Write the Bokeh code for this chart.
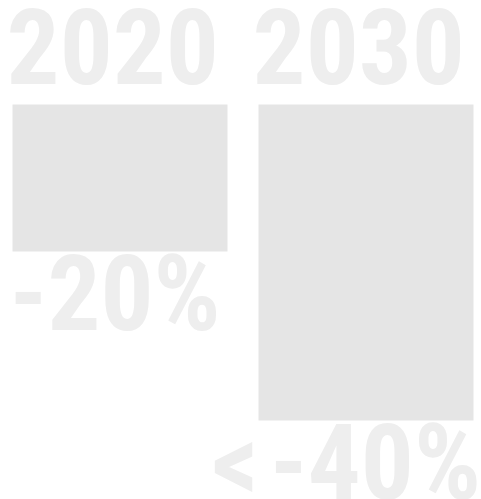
from bokeh.plotting import figure
from bokeh.embed import file_html
from bokeh.resources import INLINE
from bokeh.core.properties import value
from bokeh.models import Range1d

# --- data ---
years = ["2020", "2030"]
reduction = [20, 43]              # bar length (% reduction)
pct_labels = ["-20%", "<\u200a-40%"]

# --- styling ---
BAR_COLOR = "#e5e5e5"
TEXT_COLOR = "#eeeeee"
FONT = value("Roboto Condensed")
FONT_SIZE = "105px"

idx = list(range(len(years)))
bar_w = 0.874
bottoms = [-r for r in reduction]

p = figure(width=481, height=499, output_backend="svg", toolbar_location=None,
           x_range=Range1d(-0.4858, 1.4695), y_range=Range1d(-53.74, 14.15),
           min_border=0, background_fill_color="white", border_fill_color="white")
p.axis.visible = False
p.grid.visible = False
p.outline_line_color = None

p.vbar(x=idx, width=bar_w, top=0, bottom=bottoms, fill_color=BAR_COLOR,
       line_color=None)

common = dict(text_font=FONT, text_font_style="bold", text_font_size=FONT_SIZE,
              text_color=TEXT_COLOR, text_baseline="middle")

# year labels above the bars, left aligned with bar edge
p.text(x=[i - bar_w / 2 - 0.024 for i in idx], y=[8.0] * len(idx), text=years,
       text_align="left", **common)

# percentage labels below the bars
gap = 5.8
p.text(x=[idx[0] - bar_w / 2 - 0.012], y=[bottoms[0] - gap], text=[pct_labels[0]],
       text_align="left", **common)
p.text(x=[idx[1] + bar_w / 2 + 0.03], y=[bottoms[1] - gap], text=[pct_labels[1]],
       text_align="right", **common)

open("out.html", "w").write(file_html(p, INLINE))
